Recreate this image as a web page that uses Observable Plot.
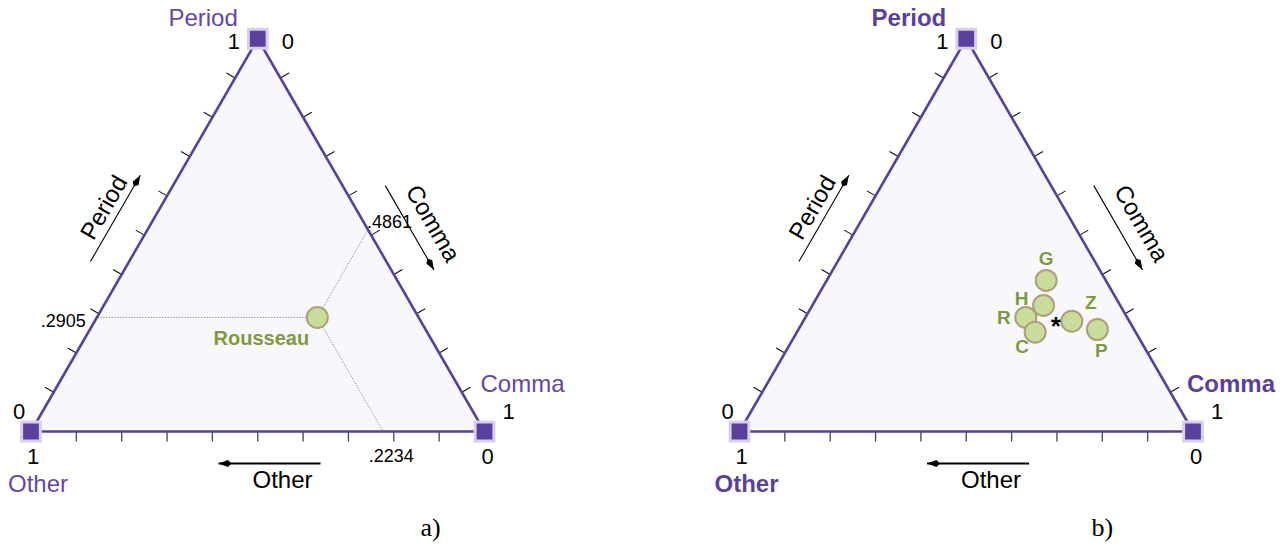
<!DOCTYPE html>
<html><head><meta charset="utf-8">
<script src="https://cdn.jsdelivr.net/npm/d3@7"></script>
<script src="https://cdn.jsdelivr.net/npm/@observablehq/plot@0.6"></script>
<style>body{margin:0;background:#fff}</style>
</head><body><div id="chart"></div>
<script>
// ---------- data ----------
const panels = ["a)", "b)"];
const vertexNames = ["Period", "Comma", "Other"];
const axisEndLabels = ["0", "1"];
const tickFractions = [0.1, 0.2, 0.3, 0.4, 0.5, 0.6, 0.7, 0.8, 0.9];
const rousseauName = "Rousseau";
const rousseauValues = [0.2905, 0.4861, 0.2234]; // period, comma, other
const rousseauTickLabels = [".2905", ".4861", ".2234"];
const authorLetters = ["G", "H", "R", "C", "Z", "P"];
const authorPeriod = [0.3845, 0.3209, 0.2905, 0.2529, 0.2809, 0.2597];
const authorComma  = [0.4840, 0.5100, 0.4861, 0.5255, 0.5923, 0.6593];
const authorOther  = [0.1315, 0.1691, 0.2234, 0.2216, 0.1268, 0.0810];
const starValues = [0.2827, 0.5560, 0.1613];

// ---------- layout / style ----------
const W = 1286, H = 548;
const L = 453.5;                 // px per unit side
const X0 = 30.5, Y0 = 431;       // left triangle bottom-left vertex (px)
const OFF = [0, (739 - X0) / L]; // panel offsets in units
const S3 = Math.sqrt(3) / 2;
const purple = "#5b3f9c", purpleText = "#6446a6", green = "#7f9a3d";
const FONT = "Liberation Sans, Arial, Helvetica, sans-serif";
const labelOffsets = {G: [0, -22], H: [-22, -7], R: [-22, 0], C: [-13, 15], Z: [19, -18], P: [4, 21]};
const panelLabelAt = [0.881, 0.8];

function pos(p, c, o, panel) {
  const s = p + c + o; p /= s; c /= s; o /= s;
  return {x: OFF[panel] + c + p / 2, y: p * S3};
}
const EDGES = {
  left:   {a: [0, 0],   b: [0.5, S3], n: [-S3, 0.5]},
  right:  {a: [0.5, S3], b: [1, 0],   n: [S3, 0.5]},
  bottom: {a: [1, 0],   b: [0, 0],    n: [0, -1]}
};
const edgeOf = {Period: "left", Comma: "right", Other: "bottom"};
function edgePt(panel, edge, t, offPx) {
  const {a, b, n} = EDGES[edge];
  return {x: OFF[panel] + a[0] + (b[0] - a[0]) * t + n[0] * offPx / L,
          y: a[1] + (b[1] - a[1]) * t + n[1] * offPx / L};
}
const vertexPos = (name, panel) =>
  pos(name === "Period" ? 1 : 0, name === "Comma" ? 1 : 0, name === "Other" ? 1 : 0, panel);

// ---------- derived rows ----------
const pIdx = [0, 1];
const triRows = pIdx.flatMap(k => ["Other", "Comma", "Period", "Other"].map(v => ({panel: k, ...vertexPos(v, k)})));
const ticks = pIdx.flatMap(k => ["left", "right", "bottom"].flatMap(e => tickFractions.map(t => {
  const a = edgePt(k, e, t, 0), b = edgePt(k, e, t, 10);
  return {x1: a.x, y1: a.y, x2: b.x, y2: b.y, bottom: e === "bottom"};
})));
const vertices = pIdx.flatMap(k => vertexNames.map(v => ({name: v, panel: k, ...vertexPos(v, k)})));

// axis arrows + titles
const arrowSpec = {Period: {t0: 0.39, t1: 0.61, off: 33.5, tt: 0.508, toff: 48.5, rot: -60, head: 30, w: 1},
                   Comma:  {t0: 0.421, t1: 0.636, off: 37, tt: 0.5455, toff: 59, rot: 60, head: 150, w: 1},
                   Other:  {t0: 0.3616, t1: 0.5865, off: 32, tt: 0.4454, toff: 49, rot: 0, head: -90, w: 2}};
const arrows = [], heads = [], titles = [];
for (const k of pIdx) for (const v of vertexNames) {
  const s = arrowSpec[v], e = edgeOf[v];
  const a = edgePt(k, e, s.t0, s.off), b = edgePt(k, e, s.t1, s.off);
  arrows.push({x1: a.x, y1: a.y, x2: b.x, y2: b.y, w: s.w});
  heads.push({...b, rot: s.head});
  titles.push({...edgePt(k, e, s.tt, s.toff), text: v, rot: s.rot});
}

// axis end numbers (0 / 1)
const endSpec = [
  ["Period", "Period", 1, -24, 3], ["Period", "Other", 0, -12, -20],
  ["Comma", "Period", 0, 30, 3], ["Comma", "Comma", 1, 24, -20],
  ["Other", "Other", 1, 2, 25], ["Other", "Comma", 0, 3, 25]
];
const endNums = pIdx.flatMap(k => endSpec.map(([axis, vert, val, dx, dy]) =>
  ({...vertexPos(vert, k), text: axisEndLabels[val], dx, dy})));

// vertex name labels
const vLabelSpec = {Period: [-20, -20, "end"], Comma: [38, -47, "middle"], Other: [7, 53, "middle"]};
const vLabels = pIdx.flatMap(k => vertexNames.map(v => ({...vertexPos(v, k), text: v, panel: k,
  dx: vLabelSpec[v][0], dy: vLabelSpec[v][1], anchor: vLabelSpec[v][2]})));

// Rousseau in panel a
const [rp, rc, ro] = rousseauValues;
const rPt = pos(rp, rc, ro, 0);
const guideEnds = [pos(rp, 0, 1 - rp, 0), pos(1 - rc, rc, 0, 0), pos(0, 1 - ro, ro, 0)];
const guides = guideEnds.map(g => ({x1: rPt.x, y1: rPt.y, x2: g.x, y2: g.y}));
const guideLabels = [
  {...guideEnds[0], text: rousseauTickLabels[0], dx: -11, dy: 4, anchor: "end"},
  {...guideEnds[1], text: rousseauTickLabels[1], dx: -1, dy: -7, anchor: "start"},
  {...guideEnds[2], text: rousseauTickLabels[2], dx: 8, dy: 25, anchor: "middle"}
];

// authors in panel b
const authors = authorLetters.map((l, i) => ({letter: l, ...pos(authorPeriod[i], authorComma[i], authorOther[i], 1),
  dx: labelOffsets[l][0], dy: labelOffsets[l][1]}));
const star = pos(...starValues, 1);

const panelLabels = panels.map((p, k) => ({x: OFF[k] + panelLabelAt[k], y: (Y0 - 527) / L, text: p}));

const stealth = {draw(ctx) { ctx.moveTo(0, 0); ctx.lineTo(3.4, 9.5); ctx.lineTo(0, 13); ctx.lineTo(-3.4, 9.5); ctx.closePath(); }};

const textBase = {fontFamily: FONT, lineAnchor: "middle"};
const textWithOffsets = (data, opts) => data.map(d => Plot.text([d], {x: "x", y: "y", text: "text", dx: d.dx ?? 0, dy: d.dy ?? 0,
  textAnchor: d.anchor ?? "middle", ...textBase, ...opts}));

const chart = Plot.plot({
  width: W, height: H, margin: 0,
  x: {domain: [-X0 / L, (W - X0) / L], axis: null},
  y: {domain: [(Y0 - H) / L, Y0 / L], axis: null},
  style: {fontFamily: FONT, background: "white"},
  marks: [
    Plot.line(triRows, {x: "x", y: "y", z: "panel", fill: "#f8f8fc", stroke: "none"}),
    Plot.link(guides, {x1: "x1", y1: "y1", x2: "x2", y2: "y2", stroke: "#8a8a8a", strokeWidth: 1, strokeDasharray: "1.3,1.5"}),
    Plot.link(ticks.filter(d => !d.bottom), {x1: "x1", y1: "y1", x2: "x2", y2: "y2", stroke: "#111", strokeWidth: 1.1}),
    Plot.link(ticks.filter(d => d.bottom), {x1: "x1", y1: "y1", x2: "x2", y2: "y2", stroke: "#444", strokeWidth: 1.3}),
    Plot.line(triRows, {x: "x", y: "y", z: "panel", stroke: purple, strokeWidth: 2.6}),
    Plot.dot(vertices, {x: "x", y: "y", symbol: "square", r: 10.6, fill: purple, stroke: "#d8cfeb", strokeWidth: 3}),
    Plot.link(arrows.filter(d => d.w === 1), {x1: "x1", y1: "y1", x2: "x2", y2: "y2", stroke: "black", strokeWidth: 1.1}),
    Plot.link(arrows.filter(d => d.w === 2), {x1: "x1", y1: "y1", x2: "x2", y2: "y2", stroke: "black", strokeWidth: 2}),
    ...heads.map(h => Plot.dot([h], {x: "x", y: "y", symbol: stealth, rotate: h.rot, fill: "black", stroke: "none"})),
    ...titles.map(t => Plot.text([t], {x: "x", y: "y", text: "text", rotate: t.rot, fontSize: 24, fill: "black", ...textBase})),
    ...textWithOffsets(endNums, {fontSize: 22, fill: "black"}),
    ...textWithOffsets(vLabels.filter(d => d.panel === 0), {fontSize: 24, fill: purpleText}),
    ...textWithOffsets(vLabels.filter(d => d.panel === 1), {fontSize: 24, fill: purple, fontWeight: "bold"}),
    // Rousseau
    Plot.dot([rPt], {x: "x", y: "y", r: 10.5, fill: "#c9dd9a", stroke: "#b09d7a", strokeWidth: 2}),
    Plot.text([rPt], {x: "x", y: "y", text: () => rousseauName, dx: -56, dy: 21, fontSize: 20, fontWeight: "bold", fill: green, ...textBase}),
    ...textWithOffsets(guideLabels, {fontSize: 18, fill: "black"}),
    // Authors
    Plot.dot(authors, {x: "x", y: "y", r: 10.5, fill: "#c9dd9a", stroke: "#b09d7a", strokeWidth: 2}),
    ...authors.map(a => Plot.text([a], {x: "x", y: "y", text: "letter", dx: a.dx, dy: a.dy, fontSize: 19, fontWeight: "bold", fill: green, ...textBase})),
    Plot.text([star], {x: "x", y: "y", text: () => "*", dy: 6, fontSize: 26, fontWeight: "bold", fill: "black", ...textBase}),
    // panel labels
    Plot.text(panelLabels, {x: "x", y: "y", text: "text", fontSize: 26, fontFamily: "Liberation Serif, DejaVu Serif, serif", lineAnchor: "middle", fill: "black"})
  ]
});
document.getElementById("chart").appendChild(chart);
</script>
</body></html>
